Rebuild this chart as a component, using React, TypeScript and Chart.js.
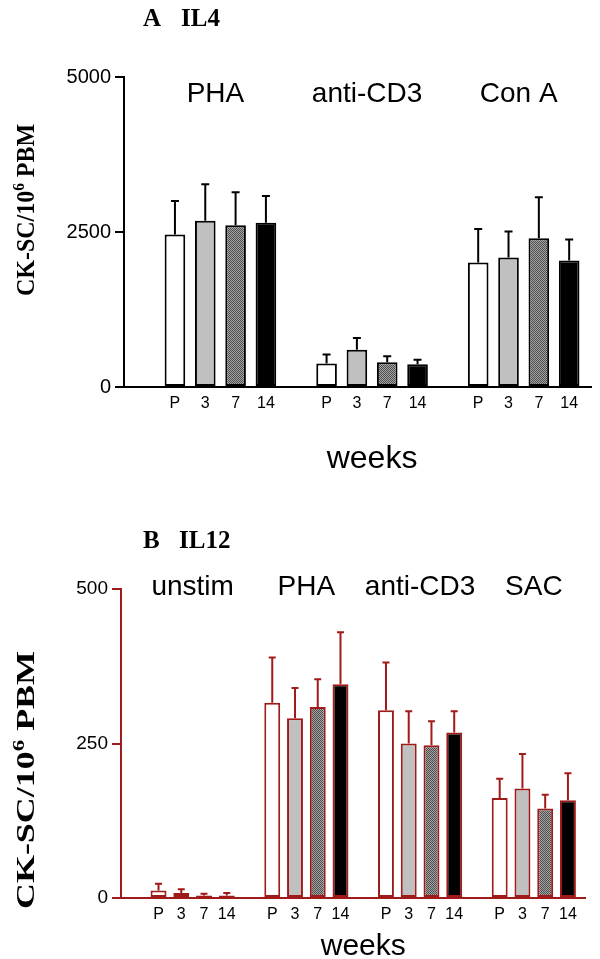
import React, { useEffect, useRef } from "react";
import { Chart, registerables } from "chart.js";

Chart.register(...registerables);

// ---------- data ----------
const WEEKS = ["P", "3", "7", "14"];

const IL4_STIMULI = ["PHA", "anti-CD3", "Con A"];
const IL4_MEAN_P = [2460, 380, 2010];
const IL4_MEAN_W3 = [2680, 600, 2090];
const IL4_MEAN_W7 = [2610, 400, 2400];
const IL4_MEAN_W14 = [2650, 365, 2040];
const IL4_SEM_P = [540, 145, 540];
const IL4_SEM_W3 = [590, 190, 420];
const IL4_SEM_W7 = [530, 95, 660];
const IL4_SEM_W14 = [430, 75, 340];
const IL4_TICKS = [0, 2500, 5000];

const IL12_STIMULI = ["unstim", "PHA", "anti-CD3", "SAC"];
const IL12_MEAN_P = [12, 316, 304, 162];
const IL12_MEAN_W3 = [8, 291, 250, 177];
const IL12_MEAN_W7 = [4, 309, 247, 145];
const IL12_MEAN_W14 = [4, 346, 268, 158];
const IL12_SEM_P = [11, 73, 77, 31];
const IL12_SEM_W3 = [6, 49, 52, 56];
const IL12_SEM_W7 = [3, 45, 39, 22];
const IL12_SEM_W14 = [4, 84, 34, 44];
const IL12_TICKS = [0, 250, 500];

// slot index on the x axis: one empty slot before every group
const GROUP_STRIDE = WEEKS.length + 1;
const slotOf = (g: number, w: number) => g * GROUP_STRIDE + 1 + w;

function makePattern(ctx: CanvasRenderingContext2D) {
  const c = document.createElement("canvas");
  c.width = 2;
  c.height = 2;
  const p = c.getContext("2d")!;
  p.fillStyle = "#a4a4a4";
  p.fillRect(0, 0, 2, 2);
  p.fillStyle = "#4e4e4e";
  p.fillRect(0, 0, 1, 1);
  p.fillRect(1, 1, 1, 1);
  return ctx.createPattern(c, "repeat")!;
}

const SANS = "'Liberation Sans', Arial, sans-serif";
const SERIF = "'Liberation Serif', 'Times New Roman', serif";

const annotPlugin = {
  id: "annot",
  afterDatasetsDraw(chart: any, _a: any, o: any) {
    const ctx = chart.ctx;
    const y = chart.scales.y;
    ctx.save();
    ctx.strokeStyle = o.color;
    ctx.lineWidth = 2;
    chart.data.datasets.forEach((ds: any, i: number) => {
      const meta = chart.getDatasetMeta(i);
      meta.data.forEach((bar: any, j: number) => {
        const top = y.getPixelForValue(ds.data[j].y + ds.errors[j]);
        ctx.beginPath();
        ctx.moveTo(bar.x, bar.y);
        ctx.lineTo(bar.x, top);
        ctx.moveTo(bar.x - o.cap / 2, top);
        ctx.lineTo(bar.x + o.cap / 2, top);
        ctx.stroke();
      });
    });
    ctx.restore();
  },
  afterDraw(chart: any, _a: any, o: any) {
    const ctx = chart.ctx;
    const x = chart.scales.x;
    ctx.save();
    ctx.fillStyle = "#000";
    // panel title
    ctx.font = `bold 25px ${SERIF}`;
    ctx.textAlign = "left";
    ctx.textBaseline = "alphabetic";
    ctx.fillText(o.panel, o.panelX, o.panelY);
    ctx.fillText(o.cytokine, o.cytokineX, o.panelY);
    // group labels
    ctx.font = `28px ${SANS}`;
    ctx.textAlign = "center";
    ctx.textBaseline = "middle";
    o.groups.forEach((g: string, k: number) => {
      const mid = k * GROUP_STRIDE + 1 + (WEEKS.length - 1) / 2;
      ctx.fillText(g, x.getPixelForValue(mid) + o.groupShift, o.groupY);
    });
    // x title
    const nG = o.groups.length;
    const midAll = (slotOf(0, 0) + slotOf(nG - 1, WEEKS.length - 1)) / 2;
    ctx.font = `${o.xTitleSize}px ${SANS}`;
    ctx.textBaseline = "alphabetic";
    ctx.fillText("weeks", x.getPixelForValue(midAll), o.xTitleY);
    // y title
    ctx.save();
    ctx.translate(o.yTitleX, o.yTitleY);
    ctx.rotate(-Math.PI / 2);
    const main = `bold ${o.yTitleSize}px ${SERIF}`;
    const sup = `bold ${Math.round(o.yTitleSize * 0.65)}px ${SERIF}`;
    ctx.font = main;
    const w1 = ctx.measureText("CK-SC/10").width;
    const w3 = ctx.measureText(" PBM").width;
    ctx.font = sup;
    const w2 = ctx.measureText("6").width;
    const total = w1 + w2 + w3;
    ctx.scale(o.yTitleLen / total, 1);
    ctx.textAlign = "left";
    const base = o.yTitleSize * 0.35;
    let px = -total / 2;
    ctx.font = main;
    ctx.fillText("CK-SC/10", px, base);
    px += w1;
    ctx.font = sup;
    ctx.fillText("6", px, base - o.yTitleSize * 0.4);
    px += w2;
    ctx.font = main;
    ctx.fillText(" PBM", px, base);
    ctx.restore();
    ctx.restore();
  },
};

function buildChart(canvas: HTMLCanvasElement, s: any) {
  const ctx = canvas.getContext("2d")!;
  const pattern = makePattern(ctx);
  const fills: any[] = ["#ffffff", "#c0c0c0", pattern, "#000000"];
  const slots: number[] = [];
  s.stimuli.forEach((_: string, g: number) =>
    WEEKS.forEach((_w, w) => slots.push(slotOf(g, w)))
  );
  const datasets = WEEKS.map((wk, wi) => ({
    label: wk,
    data: s.stimuli.map((_: string, g: number) => ({ x: slotOf(g, wi), y: s.means[wi][g] })),
    errors: s.errs[wi],
    backgroundColor: fills[wi],
    borderColor: s.color,
    borderWidth: 2,
    borderSkipped: false,
    grouped: false,
    barPercentage: s.barPct,
    categoryPercentage: 1,
  }));
  return new Chart(ctx, {
    type: "bar",
    data: { datasets } as any,
    plugins: [annotPlugin as any],
    options: {
      responsive: false,
      animation: false,
      devicePixelRatio: 1,
      events: [],
      layout: { padding: s.padding },
      plugins: {
        legend: { display: false },
        tooltip: { enabled: false },
        annot: s.annot,
      } as any,
      scales: {
        x: {
          type: "linear",
          offset: false,
          min: s.xMin,
          max: s.xMax,
          bounds: "data",
          grid: { display: false, drawTicks: false, offset: false },
          border: { display: true, color: s.color, width: 2 },
          ticks: {
            autoSkip: false,
            maxRotation: 0,
            padding: 7,
            color: "#000",
            font: { family: SANS, size: 16 },
            callback: (v: any) => WEEKS[(Number(v) - 1) % GROUP_STRIDE] ?? "",
          },
          afterBuildTicks: (sc: any) => {
            sc.ticks = slots.map((v) => ({ value: v }));
          },
          afterFit: (sc: any) => {
            sc.height = s.xHeight;
          },
        },
        y: {
          min: 0,
          max: s.ticks[s.ticks.length - 1],
          grid: { drawOnChartArea: false, color: s.color, lineWidth: 2, tickLength: 9 },
          border: { color: s.color, width: 2 },
          ticks: {
            color: "#000",
            padding: 4,
            font: { family: SANS, size: s.yTickSize },
            callback: (v: any) => String(v),
          },
          afterBuildTicks: (sc: any) => {
            sc.ticks = s.ticks.map((v: number) => ({ value: v }));
          },
          afterFit: (sc: any) => {
            sc.width = s.yWidth;
          },
        },
      } as any,
    },
  });
}

const TOP_H = 490;
const BOT_H = 959 - TOP_H;

export default function App() {
  const topRef = useRef<HTMLCanvasElement>(null);
  const botRef = useRef<HTMLCanvasElement>(null);

  useEffect(() => {
    const top = buildChart(topRef.current!, {
      stimuli: IL4_STIMULI,
      means: [IL4_MEAN_P, IL4_MEAN_W3, IL4_MEAN_W7, IL4_MEAN_W14],
      errs: [IL4_SEM_P, IL4_SEM_W3, IL4_SEM_W7, IL4_SEM_W14],
      ticks: IL4_TICKS,
      color: "#000000",
      xMin: -0.68,
      xMax: 14.72,
      barPct: 0.68,
      yTickSize: 20,
      padding: { left: 0, top: 77, right: 9, bottom: 0 },
      yWidth: 124,
      xHeight: TOP_H - 387,
      annot: {
        color: "#000000",
        cap: 8,
        panel: "A",
        cytokine: "IL4",
        panelX: 143,
        cytokineX: 181,
        panelY: 26,
        groups: IL4_STIMULI,
        groupY: 94,
        groupShift: -5,
        xTitleSize: 32,
        xTitleY: 468,
        yTitleX: 25,
        yTitleY: 210,
        yTitleLen: 172,
        yTitleSize: 25,
      },
    });
    const bot = buildChart(botRef.current!, {
      stimuli: IL12_STIMULI,
      means: [IL12_MEAN_P, IL12_MEAN_W3, IL12_MEAN_W7, IL12_MEAN_W14],
      errs: [IL12_SEM_P, IL12_SEM_W3, IL12_SEM_W7, IL12_SEM_W14],
      ticks: IL12_TICKS,
      color: "#a11a1a",
      xMin: -0.65,
      xMax: 19.75,
      barPct: 0.7,
      yTickSize: 19,
      padding: { left: 0, top: 589 - TOP_H, right: 15, bottom: 0 },
      yWidth: 121,
      xHeight: 959 - 898,
      annot: {
        color: "#a11a1a",
        cap: 7,
        panel: "B",
        cytokine: "IL12",
        panelX: 143,
        cytokineX: 179,
        panelY: 548 - TOP_H,
        groups: IL12_STIMULI,
        groupY: 587 - TOP_H,
        groupShift: 0,
        xTitleSize: 30,
        xTitleY: 955 - TOP_H,
        yTitleX: 25,
        yTitleY: 780 - TOP_H,
        yTitleLen: 258,
        yTitleSize: 25,
      },
    });
    return () => {
      top.destroy();
      bot.destroy();
    };
  }, []);

  return (
    <div style={{ position: "absolute", left: 0, top: 0, width: 600, height: 959, background: "#fff" }}>
      <canvas
        ref={topRef}
        width={600}
        height={TOP_H}
        style={{ position: "absolute", left: 0, top: 0, width: 600, height: TOP_H }}
      />
      <canvas
        ref={botRef}
        width={600}
        height={BOT_H}
        style={{ position: "absolute", left: 0, top: TOP_H, width: 600, height: BOT_H }}
      />
    </div>
  );
}
